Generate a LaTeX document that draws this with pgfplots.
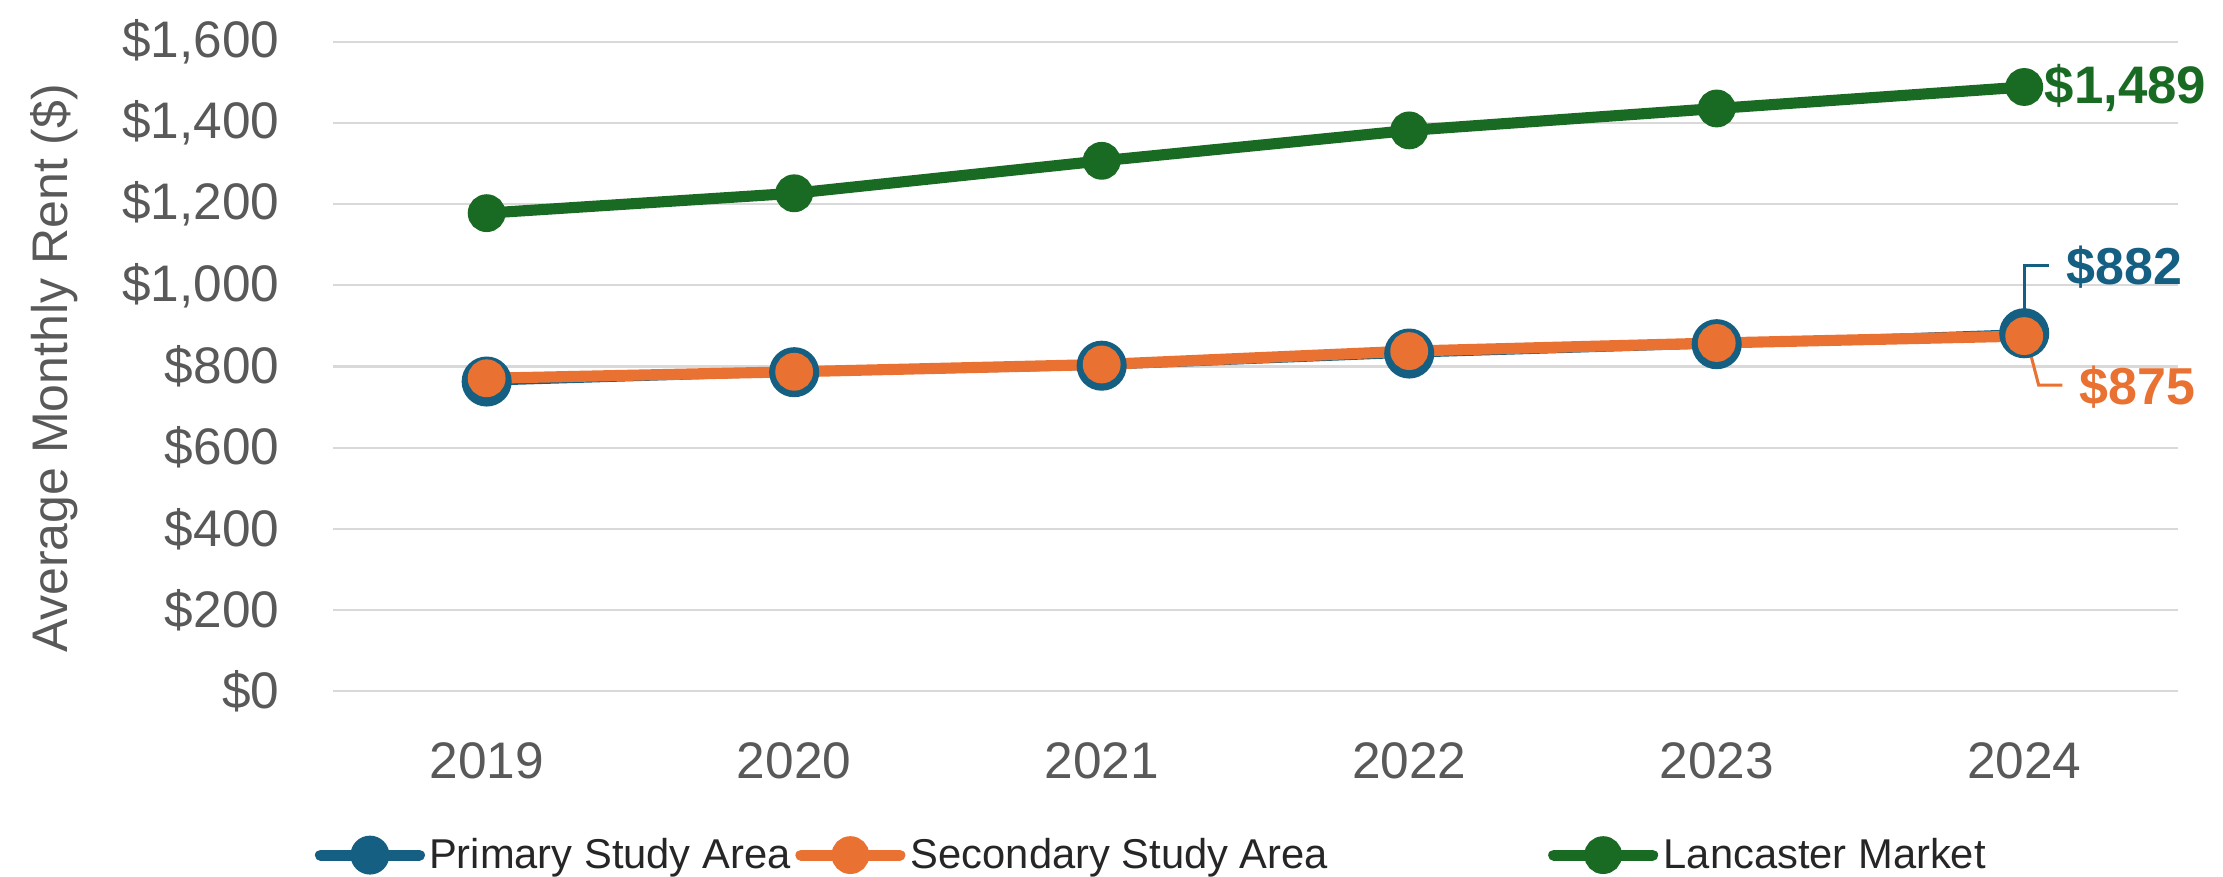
\documentclass[border=0pt]{standalone}
\usepackage{fontspec}
\setmainfont{Liberation Sans}
\usepackage{pgfplots}
\pgfplotsset{compat=1.18}
\definecolor{cblue}{HTML}{156082}
\definecolor{corange}{HTML}{E97132}
\definecolor{cgreen}{HTML}{196B24}
\definecolor{cgrid}{HTML}{D9D9D9}
\definecolor{ctick}{HTML}{595959}
\definecolor{ctext}{HTML}{262626}
\begin{document}
\begin{tikzpicture}
\path[use as bounding box] (0,0) rectangle (800pt,315.6pt);
\begin{axis}[
  at={(119.8pt,66.9pt)}, anchor=south west,
  scale only axis, width=664pt, height=233.6pt,
  xmin=-0.5, xmax=5.5, ymin=0, ymax=1600,
  clip=false,
  axis line style={draw=none},
  tick style={draw=none},
  ymajorgrids, grid style={cgrid, line width=0.75pt},
  xtick={0,...,5}, xticklabels={2019,2020,2021,2022,2023,2024},
  ytick={0,200,...,1600},
  yticklabels={\$0,\$200,\$400,\$600,\$800,{\$1,000},{\$1,200},{\$1,400},{\$1,600}},
  ticklabel style={font=\fontsize{18.5}{20}\selectfont, text=ctick, inner sep=0pt},
  xticklabel style={anchor=center, yshift=-25.2pt},
  yticklabel style={anchor=east, xshift=-19.1pt},
  ylabel={Average Monthly Rent (\$)},
  ylabel style={at={(axis description cs:-0.1512,0.497)}, anchor=center, font=\fontsize{18}{20}\selectfont, text=ctick},
  legend columns=3,
  legend style={at={(axis description cs:-0.012,-0.2527)}, anchor=west, draw=none, fill=none, inner sep=0pt, outer sep=0pt, column sep=0pt, row sep=0pt, font=\fontsize{15}{18}\selectfont, text=ctext, nodes={inner sep=0pt}},
]
\addplot[cblue, line width=3pt, mark=*, mark size=7.5pt, mark options={fill=cblue, draw=none},
  legend image code/.code={\path (0pt,0pt) (39.6pt,0pt); \draw[cblue, line width=4pt, line cap=round] (2pt,0pt) -- (37.6pt,0pt); \fill[cblue] (19.8pt,0pt) circle (5.5pt);}]
  coordinates {(0,763) (1,786) (2,802) (3,832) (4,855) (5,882)};
\addplot[corange, line width=4pt, mark=*, mark size=4.8pt, mark options={fill=corange, draw=none},
  legend image code/.code={\path (0pt,0pt) (39.6pt,0pt); \draw[corange, line width=4pt, line cap=round] (2pt,0pt) -- (37.6pt,0pt); \fill[corange] (19.8pt,0pt) circle (4.8pt);}]
  coordinates {(0,771) (1,787) (2,805) (3,838) (4,858) (5,875)};
\addplot[cgreen, line width=4pt, mark=*, mark size=4.8pt, mark options={fill=cgreen, draw=none},
  legend image code/.code={\path (0pt,0pt) (39.6pt,0pt); \draw[cgreen, line width=4pt, line cap=round] (2pt,0pt) -- (37.6pt,0pt); \fill[cgreen] (19.8pt,0pt) circle (4.8pt);}]
  coordinates {(0,1178) (1,1227) (2,1307) (3,1382) (4,1436) (5,1489)};
\legend{\makebox[129.8pt][l]{Primary Study Area},\makebox[227.3pt][l]{Secondary Study Area},Lancaster Market}
\draw[cblue, line width=1.1pt] (axis cs:5,882) -- (axis cs:5,1048) -- (axis cs:5.081,1048);
\draw[corange, line width=1.1pt] (axis cs:5.009,865) -- (axis cs:5.047,754) -- (axis cs:5.124,754);
\node[anchor=west, inner sep=0pt, text=cgreen, font=\bfseries\fontsize{19}{20}\selectfont] at (axis cs:5.065,1487) {\$1,489};
\node[anchor=west, inner sep=0pt, text=cblue, font=\bfseries\fontsize{18.7}{20}\selectfont] at (axis cs:5.137,1045) {\$882};
\node[anchor=west, inner sep=0pt, text=corange, font=\bfseries\fontsize{18.7}{20}\selectfont] at (axis cs:5.179,750) {\$875};
\end{axis}
\end{tikzpicture}
\end{document}
